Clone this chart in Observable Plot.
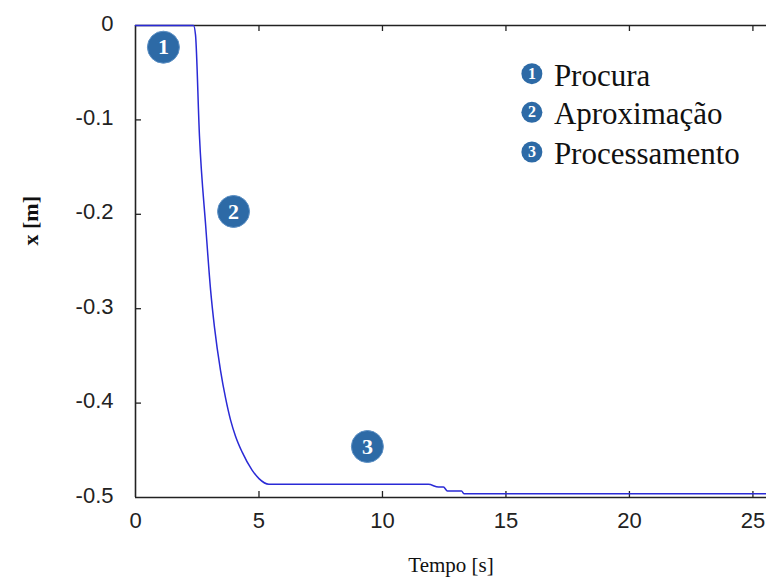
<!DOCTYPE html>
<html><head><meta charset="utf-8">
<script src="https://cdn.jsdelivr.net/npm/d3@7"></script>
<script src="https://cdn.jsdelivr.net/npm/@observablehq/plot@0.6"></script>
<style>
html,body{margin:0;padding:0;background:#fff;overflow:hidden}
svg{display:block}
g[aria-label="legend-text"] text{letter-spacing:1px}
</style></head><body><div id="chart"></div>
<script>
// Series: time [s] and position x [m]
const time     = [0, 2.35, 2.43, 2.59, 2.85, 3.04, 3.20, 3.44, 3.65, 3.85, 4.05, 4.32, 4.72, 5.00, 5.40, 11.86, 12.27, 12.47, 12.63, 13.20, 13.30, 25.6];
const position = [0, 0, -0.01, -0.117, -0.215, -0.28, -0.32, -0.365, -0.395, -0.418, -0.435, -0.452, -0.471, -0.480, -0.486, -0.486, -0.489, -0.489, -0.493, -0.493, -0.496, -0.496];

// Tick values
const xTicks = [0, 5, 10, 15, 20, 25];
const yTicks = [0, -0.1, -0.2, -0.3, -0.4, -0.5];

// Numbered phase markers on the plot
const markerLabels = ["1", "2", "3"];
const markerTime   = [1.13, 3.97, 9.39];
const markerValue  = [-0.023, -0.197, -0.446];

// Legend
const legendNumbers = ["1", "2", "3"];
const legendLabels  = ["Procura", "Aproximação", "Processamento"];
const legendTime    = 16.05;
const legendValue   = [-0.051, -0.092, -0.134];

const series  = time.map((t, i) => ({t, x: position[i]}));
const markers = markerLabels.map((s, i) => ({s, t: markerTime[i], v: markerValue[i]}));
const legend  = legendLabels.map((s, i) => ({n: legendNumbers[i], s, t: legendTime, v: legendValue[i]}));

const W = 766, H = 581, ML = 135, MT = 25, MB = 84, MR = 0;
const frameW = W - ML - MR, frameH = H - MT - MB;
const tick = 6;
const axisColor = "#222";
const blue = "#2d6aa6";
const serif = "'Liberation Serif', 'Times New Roman', serif";

const chart = Plot.plot({
  width: W, height: H,
  marginLeft: ML, marginRight: MR, marginTop: MT, marginBottom: MB,
  x: {domain: [0, 25.55]},
  y: {domain: [-0.5, 0]},
  style: {fontFamily: "'Liberation Sans', Arial, sans-serif", background: "#fff"},
  marks: [
    Plot.axisX(xTicks, {tickSize: 0, tickPadding: 15, fontSize: 22, fill: "#222", label: null, tickFormat: d => String(d)}),
    Plot.axisY(yTicks, {tickSize: 0, tickPadding: 22, fontSize: 22, fill: "#222", label: null, tickFormat: d => String(d), dy: -2}),
    // inward ticks
    Plot.ruleX(xTicks.slice(1), {insetTop: frameH - tick, stroke: axisColor, strokeWidth: 1.3}),
    Plot.ruleX(xTicks.slice(1), {insetBottom: frameH - tick, stroke: axisColor, strokeWidth: 1.3}),
    Plot.ruleY(yTicks.slice(1, -1), {insetRight: frameW - tick, stroke: axisColor, strokeWidth: 1.3}),
    // frame (left, top, bottom)
    Plot.ruleX([0], {stroke: axisColor, strokeWidth: 1.6}),
    Plot.ruleY([0, -0.5], {stroke: axisColor, strokeWidth: 1.6}),
    // data line
    Plot.line(series, {x: "t", y: "x", stroke: "#2a2ad6", strokeWidth: 1.5, curve: "monotone-x"}),
    // phase markers
    Plot.dot(markers, {x: "t", y: "v", r: 16, fill: blue, stroke: "#5b8fc4", strokeWidth: 1}),
    Plot.text(markers, {x: "t", y: "v", text: "s", fill: "white", fontSize: 22, fontWeight: "bold", fontFamily: serif}),
    // legend
    Plot.dot(legend, {x: "t", y: "v", r: 10.5, fill: blue}),
    Plot.text(legend, {x: "t", y: "v", text: "n", fill: "white", fontSize: 16, fontWeight: "bold", fontFamily: serif}),
    Plot.text(legend, {x: "t", y: "v", text: "s", textAnchor: "start", dx: 22, dy: 2, fontSize: 31, fontFamily: serif, fill: "#111", ariaLabel: "legend-text"}),
    // axis titles
    Plot.text(["Tempo [s]"], {frameAnchor: "bottom", dy: 74, fontSize: 21, fontFamily: serif, fill: "#111"}),
    Plot.text(["x [m]"], {frameAnchor: "left", rotate: -90, dx: -105, dy: -16, fontSize: 22, fontWeight: "bold", fontFamily: serif, fill: "#111"})
  ]
});
document.getElementById("chart").appendChild(chart);
</script>
</body></html>
